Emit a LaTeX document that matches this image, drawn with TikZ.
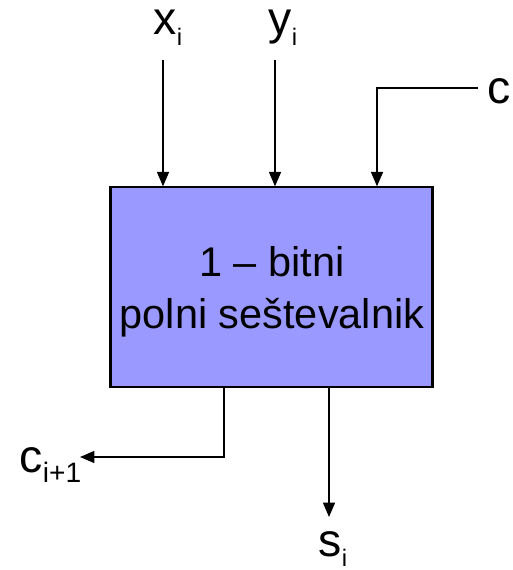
\documentclass[tikz,border=0pt]{standalone}
\usepackage{fontspec}
\setmainfont{Liberation Sans}
\usetikzlibrary{arrows.meta}
\definecolor{adderblue}{RGB}{153,153,255}
\newcommand{\idx}[2][17]{\raisebox{-0.22em}{\fontsize{#1}{#1}\selectfont #2}}

\begin{document}
\begin{tikzpicture}[
    x=0.025cm, y=-0.025cm,
    wire/.style={-{Triangle[length=0.36cm, width=0.3cm]}, line width=1.1pt, color=black},
    block/.style={draw=black, line width=1.5pt, fill=adderblue, minimum width=8.05cm, minimum height=4.98cm, inner sep=0pt},
    signal/.style={font=\fontsize{33}{36}\selectfont, inner sep=1pt},
    inside/.style={font=\fontsize{29.5}{37}\selectfont, align=center}
]
    \useasboundingbox (0,0) rectangle (512,570);

    \node[block] (adder) at (271.5,287) {};
    \node[inside] (txt) at (272,292) {1 -- bitni\\polni seštevalnik};

    % inputs
    \node[signal, anchor=base] (xi) at (168,35) {x\idx{i}};
    \node[signal, anchor=base] (yi) at (283,35) {y\idx{i}};
    \node[signal, anchor=base west] (ci) at (486,104) {c};
    \coordinate (xin) at (163,60);
    \coordinate (yin) at (275,60);
    \coordinate (cin) at (478,88);
    \coordinate (cturn) at (377,88);

    \draw[wire] (xin) -- (xin |- adder.north);
    \draw[wire] (yin) -- (yin |- adder.north);
    \draw[wire] (cin) -- (cturn) -- (cturn |- adder.north);

    % outputs
    \node[signal, anchor=base west] (cnext) at (18,472) {c\idx[20]{i+1}};
    \node[signal, anchor=base] (si) at (333,556) {s\idx{i}};
    \coordinate (cout) at (224,457);
    \coordinate (ctip) at (80,457);
    \coordinate (sout) at (329,517);

    \draw[wire] (cout |- adder.south) -- (cout) -- (ctip);
    \draw[wire] (sout |- adder.south) -- (sout);
\end{tikzpicture}
\end{document}
